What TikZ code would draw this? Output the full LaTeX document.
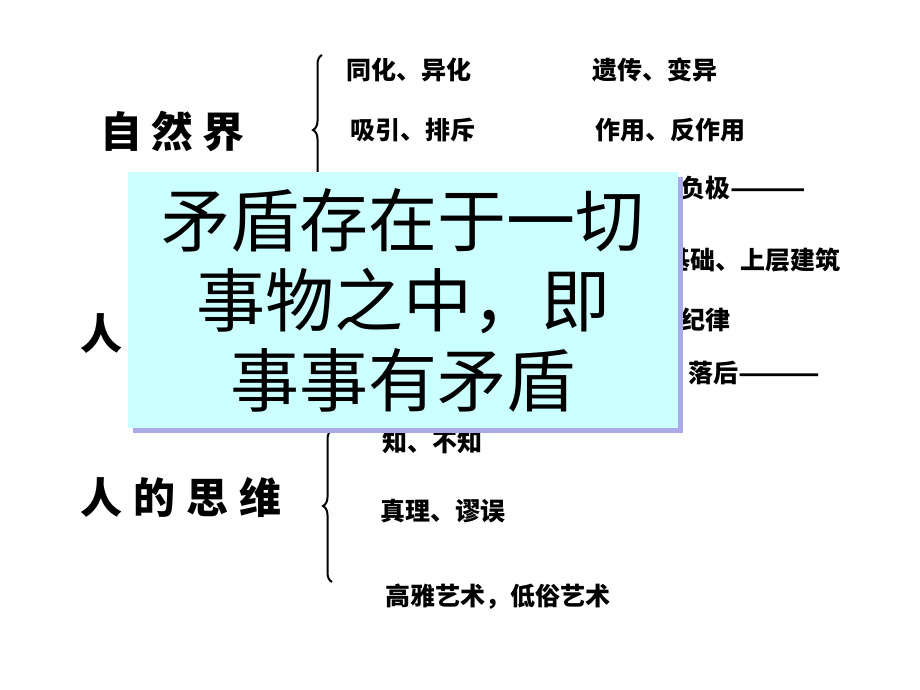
\documentclass[tikz,border=0pt]{standalone}
\usepackage{fontspec}
\newfontfamily\cjk{Noto Sans CJK SC}
\usetikzlibrary{decorations.pathreplacing,shadows}
\definecolor{boxcyan}{RGB}{204,255,255}
\definecolor{shadowblue}{RGB}{170,170,232}
\begin{document}
\begin{tikzpicture}[x=1pt, y=-1pt,
  big/.style={font=\cjk\bfseries\fontsize{42}{42}\selectfont, inner sep=0pt, anchor=west},
  item/.style={font=\cjk\bfseries\fontsize{25}{25}\selectfont, inner sep=0pt, anchor=west},
  bracket/.style={decorate, decoration={brace, amplitude=9pt}, line width=2pt}]
\useasboundingbox (0,0) rectangle (920,690);
\node (nat)[big] at (100,131) {自\hspace{9pt}然\hspace{9pt}界};
\node (soc)[big] at (80,334) {人};
\node (mind)[big] at (80,497) {人\hspace{11pt}的\hspace{11pt}思\hspace{11pt}维};
\node (a1)[item] at (346,70) {同化、异化};
\node (a2)[item] at (592,70) {遗传、变异};
\node (a3)[item] at (350,130) {吸引、排斥};
\node (a4)[item] at (595,130) {作用、反作用};
\node (b1)[item] at (680,188) {负极\scalebox{1.2}[1]{———}};
\node (b2)[item] at (665,260) {基础、上层建筑};
\node (b3)[item] at (680,320) {纪律};
\node (b4)[item] at (688,373) {落后\scalebox{1.3}[1]{———}};
\node (c1)[item] at (382,442) {知、不知};
\node (c2)[item] at (380,511) {真理、谬误};
\node (c3)[item] at (385,597) {高雅艺术，低俗艺术};
\coordinate (br1a) at (322,205);
\coordinate (br1b) at (322,55);
\coordinate (br3a) at (332,582);
\coordinate (br3b) at (332,430);
\draw[bracket] (br1a) -- (br1b);
\draw[bracket] (br3a) -- (br3b);
\node (box)[fill=boxcyan, minimum width=550, minimum height=256, align=center,
  drop shadow={shadow xshift=5pt, shadow yshift=-5pt, fill=shadowblue, opacity=1},
  font=\cjk\fontsize{69}{80}\selectfont] at (403,300)
  {矛盾存在于一切\\事物之中，即\\事事有矛盾};
\end{tikzpicture}
\end{document}
